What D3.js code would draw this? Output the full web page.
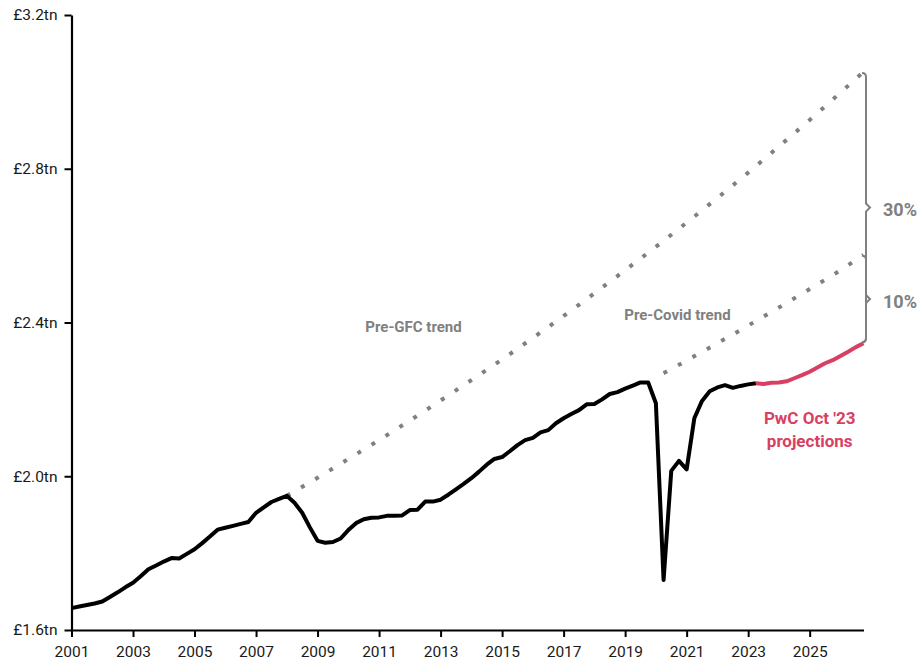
<!DOCTYPE html>
<html>
<head>
<meta charset="utf-8">
<script src="https://cdn.jsdelivr.net/npm/d3@7/dist/d3.min.js"></script>
<style>
  html, body { margin: 0; padding: 0; background: #fff; }
  svg { display: block; font-family: Roboto, "Noto Sans", sans-serif; }
</style>
</head>
<body>
<svg id="chart" width="924" height="663"></svg>
<script>
// UK real GDP, £tn, quarterly from 2001 Q1 (outturn to 2023 Q2)
const actualStartYear = 2001;
const actualGdp = [
  1.657, 1.661, 1.665, 1.669, 1.674, 1.686, 1.698, 1.711,
  1.723, 1.740, 1.758, 1.768, 1.778, 1.787, 1.786, 1.798,
  1.810, 1.826, 1.843, 1.861, 1.866, 1.871, 1.876, 1.881,
  1.905, 1.919, 1.933, 1.941, 1.949, 1.931, 1.905, 1.867,
  1.832, 1.827, 1.829, 1.838, 1.860, 1.878, 1.888, 1.892,
  1.893, 1.897, 1.897, 1.898, 1.912, 1.913, 1.934, 1.934,
  1.939, 1.952, 1.966, 1.980, 1.995, 2.012, 2.030, 2.045,
  2.050, 2.065, 2.081, 2.094, 2.100, 2.114, 2.120, 2.138,
  2.151, 2.162, 2.172, 2.187, 2.188, 2.200, 2.214, 2.219,
  2.228, 2.236, 2.244, 2.244, 2.190, 1.730, 2.014, 2.040,
  2.018, 2.151, 2.196, 2.221, 2.231, 2.237, 2.230, 2.235,
  2.239, 2.242
];

// PwC October 2023 projections, quarterly from 2023 Q2
const projectionStartYear = 2023.25;
const projectionGdp = [
  2.242, 2.240, 2.243, 2.244, 2.247, 2.255, 2.263, 2.272,
  2.283, 2.294, 2.302, 2.313, 2.324, 2.336, 2.346
];

// Trend paths
const preGfcYears = [2008, 2009, 2010, 2011, 2012, 2013, 2014, 2015, 2016, 2017,
                     2018, 2019, 2020, 2021, 2022, 2023, 2024, 2025, 2026, 2026.75];
const preGfcTrend = [1.949, 1.996, 2.045, 2.094, 2.145, 2.197, 2.250, 2.304, 2.360, 2.417,
                     2.476, 2.536, 2.597, 2.660, 2.724, 2.790, 2.858, 2.927, 2.998, 3.052];

const preCovidYears = [2020.25, 2021, 2022, 2023, 2024, 2025, 2026, 2026.75];
const preCovidTrend = [2.268, 2.301, 2.346, 2.392, 2.439, 2.487, 2.536, 2.576];

// Axis ticks
const yTicks = [1.6, 2.0, 2.4, 2.8, 3.2];
const xTicks = [2001, 2003, 2005, 2007, 2009, 2011, 2013, 2015, 2017, 2019, 2021, 2023, 2025];

// Gap labels
const gapLabels = ["30%", "10%"];

const actual = actualGdp.map((v, i) => ({ year: actualStartYear + i / 4, value: v }));
const projection = projectionGdp.map((v, i) => ({ year: projectionStartYear + i / 4, value: v }));
const preGfc = preGfcYears.map((yr, i) => ({ year: yr, value: preGfcTrend[i] }));
const preCovid = preCovidYears.map((yr, i) => ({ year: yr, value: preCovidTrend[i] }));

const svg = d3.select("#chart");
const x = d3.scaleLinear().domain([2001, 2026.75]).range([71.5, 863.5]);
const y = d3.scaleLinear().domain([1.6, 3.2]).range([630, 15]);

const grey = "#808080";
const rose = "#d93f63";

// Axes
const yAxis = svg.append("g")
  .attr("transform", `translate(${x(2001)},0)`)
  .call(d3.axisLeft(y).tickValues(yTicks).tickSize(7).tickSizeOuter(0).tickPadding(7)
        .tickFormat(d => `£${d.toFixed(1)}tn`));
const xAxis = svg.append("g")
  .attr("transform", `translate(0,${y(1.6)})`)
  .call(d3.axisBottom(x).tickValues(xTicks).tickSize(7).tickSizeOuter(0).tickPadding(9)
        .tickFormat(d3.format("d")));

[yAxis, xAxis].forEach(g => {
  g.select(".domain").attr("stroke", "#000").attr("stroke-width", 2.2);
  g.selectAll(".tick line").attr("stroke", "#000").attr("stroke-width", 2);
  g.selectAll(".tick text").attr("fill", "#1a1a1a").style("font-size", "15.5px")
    .style("font-family", "Roboto, sans-serif");
});

const line = d3.line().x(d => x(d.year)).y(d => y(d.value));
const smooth = d3.line().curve(d3.curveMonotoneX).x(d => x(d.year)).y(d => y(d.value));

// Dotted trend lines
[preGfc, preCovid].forEach(series => {
  svg.append("path")
    .datum(series)
    .attr("d", smooth)
    .attr("fill", "none")
    .attr("stroke", grey)
    .attr("stroke-width", 4)
    .attr("stroke-dasharray", "4,12.5");
});

// Projection
svg.append("path")
  .datum(projection)
  .attr("d", line)
  .attr("fill", "none")
  .attr("stroke", rose)
  .attr("stroke-width", 4)
  .attr("stroke-linejoin", "round");

// Outturn
svg.append("path")
  .datum(actual)
  .attr("d", line)
  .attr("fill", "none")
  .attr("stroke", "#000")
  .attr("stroke-width", 4)
  .attr("stroke-linejoin", "round");

// Braces showing the gap between projection end and each trend
const endYear = 2026.75;
const projEnd = projectionGdp[projectionGdp.length - 1];
const braceX = x(endYear) + 2.5;
function brace(topVal, botVal) {
  const y0 = y(topVal) + 1, y1 = y(botVal) - 1, ym = (y0 + y1) / 2, c = 4;
  return `M${braceX - c},${y0} Q${braceX},${y0} ${braceX},${y0 + c}` +
         ` L${braceX},${ym - c} L${braceX + c},${ym} L${braceX},${ym + c}` +
         ` L${braceX},${y1 - c} Q${braceX},${y1} ${braceX - c},${y1}`;
}
const braceTops = [preGfcTrend[preGfcTrend.length - 1], preCovidTrend[preCovidTrend.length - 1]];
braceTops.forEach((topVal, i) => {
  svg.append("path")
    .attr("d", brace(topVal, projEnd))
    .attr("fill", "none")
    .attr("stroke", grey)
    .attr("stroke-width", 2);
  svg.append("text")
    .attr("x", braceX + 17)
    .attr("y", (y(topVal) + y(projEnd)) / 2 + 3)
    .attr("dy", "0.32em")
    .attr("fill", grey)
    .style("font-size", "18px")
    .style("font-weight", "700")
    .text(gapLabels[i]);
});

// Series labels
svg.append("text")
  .attr("x", x(2012.12)).attr("y", y(2.389))
  .attr("text-anchor", "middle").attr("dy", "0.35em")
  .attr("fill", grey).style("font-size", "15px").style("font-weight", "700")
  .text("Pre-GFC trend");
svg.append("text")
  .attr("x", x(2020.7)).attr("y", y(2.420))
  .attr("text-anchor", "middle").attr("dy", "0.35em")
  .attr("fill", grey).style("font-size", "15px").style("font-weight", "700")
  .text("Pre-Covid trend");

const projLabel = svg.append("text")
  .attr("text-anchor", "middle")
  .attr("fill", rose).style("font-size", "17px").style("font-weight", "700");
projLabel.append("tspan").attr("x", x(2025.0)).attr("y", 424).text("PwC Oct '23");
projLabel.append("tspan").attr("x", x(2025.0)).attr("y", 447).text("projections");
</script>
</body>
</html>
